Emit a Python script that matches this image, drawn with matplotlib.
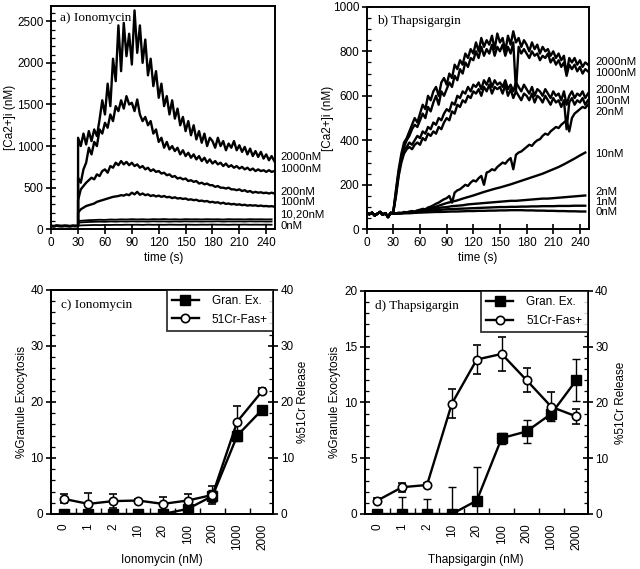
import numpy as np
import matplotlib
matplotlib.use("Agg")
import matplotlib.pyplot as plt
from matplotlib.ticker import FixedLocator
from matplotlib.lines import Line2D
import matplotlib.transforms as mtransforms

plt.rcParams['font.family'] = ['Liberation Sans', 'DejaVu Sans']
plt.rcParams['font.size'] = 8.5

# ---------------- Panel a: Ionomycin traces ----------------
a_pre = [40, 38, 42, 40, 39, 41, 40, 38, 41, 40, 40]          # t = 0..30 step 3
a_2000 = [1100, 1000, 1150, 1020, 1180, 1060, 1200, 1120, 1320, 1550,
          1380, 1750, 1480, 2050, 1780, 2450, 1900, 2480, 2080, 2350,
          1980, 2630, 2120, 2450, 2000, 2280, 1850, 2050, 1720, 1900,
          1580, 1750, 1480, 1600, 1380, 1550, 1330, 1450, 1250, 1350,
          1180, 1300, 1130, 1250, 1080, 1180, 1040, 1150, 1000, 1100,
          1060, 980, 1100, 1000, 1060, 950, 1030, 980, 1060, 950,
          1010, 930, 990, 900, 970, 880, 940, 870, 930, 850,
          900, 830, 880, 820]
a_1000 = [620, 560, 720, 800, 980, 900, 1050, 1000, 1200, 1150,
          1280, 1220, 1380, 1300, 1480, 1420, 1550, 1450, 1600, 1500,
          1520, 1420, 1560, 1380, 1300, 1350, 1250, 1300, 1150, 1200,
          1050, 1100, 980, 1050, 960, 1000, 940, 980, 900, 950,
          880, 920, 860, 900, 840, 880, 820, 860, 800, 840,
          790, 820, 780, 800, 760, 790, 750, 770, 740, 760,
          730, 750, 720, 740, 710, 730, 700, 720, 700, 710,
          690, 710, 690, 700]
a_200 = [350, 480, 520, 560, 590, 620, 600, 660, 640, 700,
         720, 680, 760, 740, 800, 770, 820, 780, 810, 770,
         800, 760, 780, 740, 760, 720, 740, 700, 720, 690,
         700, 670, 680, 650, 660, 630, 640, 610, 620, 600,
         610, 580, 590, 570, 580, 550, 560, 540, 550, 530,
         530, 510, 520, 500, 500, 490, 500, 480, 480, 470,
         480, 460, 470, 450, 460, 440, 450, 440, 445, 435,
         440, 430, 440, 430]
a_100 = [200, 240, 260, 280, 290, 300, 310, 330, 340, 350,
         360, 370, 380, 390, 395, 400, 410, 405, 420, 410,
         440, 420, 450, 415, 430, 410, 420, 400, 410, 395,
         405, 390, 400, 385, 390, 375, 385, 370, 375, 365,
         370, 355, 360, 350, 355, 340, 345, 335, 340, 325,
         330, 320, 325, 310, 320, 305, 310, 300, 305, 295,
         300, 290, 295, 285, 290, 285, 288, 280, 285, 278,
         280, 275, 278, 272]
a_20 = [100, 105, 110, 112, 115, 113, 118, 116, 120, 118,
        122, 119, 121, 118, 122, 120, 123, 119, 121, 118,
        122, 120, 121, 119, 122, 120, 121, 118, 122, 120,
        121, 119, 122, 120, 121, 119, 120]
a_10 = [80, 85, 88, 90, 92, 90, 94, 92, 95, 93,
        96, 94, 95, 93, 96, 94, 95, 92, 95, 93,
        96, 94, 95, 93, 95, 94, 96, 93, 95, 94,
        95, 93, 96, 94, 95, 93, 94]
a_0 = [45, 48, 50, 52, 51, 53, 52, 54, 53, 55,
       54, 55, 53, 56, 54, 55, 54, 56, 55, 54,
       56, 55, 54, 56, 55, 57, 55, 56, 54, 56,
       55, 57, 55, 56, 55, 56, 55]

# ---------------- Panel b: Thapsigargin traces ----------------
b_pre = [72, 68, 75, 62, 70, 78, 66, 72, 55, 74, 70]
b_2000 = [80, 180, 270, 340, 390, 410, 440, 470, 500, 480,
          520, 560, 540, 600, 580, 620, 640, 600, 660, 680,
          650, 700, 680, 740, 720, 760, 740, 790, 770, 810,
          790, 840, 800, 860, 820, 850, 830, 870, 810, 880,
          840, 860, 800, 870, 830, 890, 840, 860, 820, 850,
          830, 800, 840, 810, 830, 790, 820, 800, 810, 780,
          800, 770, 790, 760, 780, 700, 770, 750, 770, 740,
          760, 730, 750, 740]
b_1000 = [80, 160, 250, 320, 370, 400, 420, 450, 470, 460,
          490, 520, 500, 550, 530, 570, 600, 560, 620, 600,
          630, 660, 640, 690, 670, 720, 700, 750, 730, 770,
          760, 800, 770, 820, 780, 810, 790, 830, 780, 820,
          800, 830, 780, 820, 790, 840, 620, 820, 790, 810,
          790, 770, 800, 780, 790, 760, 780, 770, 790, 750,
          770, 740, 760, 730, 750, 690, 740, 720, 740, 710,
          730, 700, 720, 710]
b_200 = [80, 170, 260, 320, 360, 370, 390, 380, 400, 420,
         410, 440, 430, 460, 450, 480, 470, 500, 490, 520,
         540, 530, 570, 560, 600, 590, 620, 610, 640, 620,
         650, 640, 660, 630, 670, 650, 680, 640, 670, 650,
         660, 640, 670, 630, 650, 620, 660, 640, 620, 650,
         630, 610, 640, 600, 630, 620, 600, 630, 610, 590,
         620, 600, 610, 580, 620, 560, 600, 620, 590, 610,
         600, 620, 590, 610]
b_100 = [80, 150, 240, 300, 340, 360, 370, 360, 380, 390,
         380, 410, 400, 430, 420, 440, 430, 460, 450, 480,
         500, 490, 530, 520, 560, 550, 580, 570, 600, 590,
         620, 610, 630, 600, 640, 620, 650, 610, 640, 630,
         640, 610, 650, 600, 630, 590, 620, 600, 580, 610,
         600, 580, 610, 570, 600, 590, 570, 600, 580, 560,
         590, 570, 580, 550, 580, 450, 570, 590, 560, 580,
         570, 590, 560, 580]
b_20 = [72, 70, 75, 73, 78, 76, 80, 82, 80, 85,
        88, 92, 90, 98, 102, 108, 115, 120, 128, 135,
        140, 150, 120, 165, 175, 180, 190, 200, 195, 210,
        220, 215, 230, 240, 200, 255, 260, 270, 265, 280,
        290, 300, 295, 310, 320, 270, 335, 345, 350, 360,
        370, 380, 375, 390, 400, 405, 420, 430, 425, 440,
        450, 460, 455, 470, 480, 490, 440, 500, 520, 530,
        540, 550, 545, 560]
b_10 = [70, 71, 73, 74, 78, 84, 90, 96, 102, 110,
        118, 124, 130, 138, 145, 152, 160, 168, 175, 182,
        188, 195, 202, 210, 218, 226, 234, 242, 250, 260,
        270, 280, 292, 305, 318, 332, 345]
b_2 = [72, 73, 74, 76, 78, 82, 86, 90, 94, 98,
       100, 104, 106, 108, 112, 114, 116, 118, 120, 122,
       124, 126, 128, 128, 130, 132, 134, 136, 138, 138,
       140, 142, 144, 146, 148, 150, 152]
b_1 = [72, 72, 73, 75, 77, 80, 82, 84, 86, 88,
       90, 91, 92, 93, 94, 95, 96, 97, 98, 99,
       100, 100, 101, 101, 102, 102, 103, 103, 104, 104,
       104, 105, 105, 105, 106, 106, 106]
b_0 = [72, 71, 73, 72, 74, 75, 76, 77, 78, 78,
       79, 80, 80, 81, 82, 82, 83, 83, 84, 84,
       85, 85, 86, 86, 86, 85, 85, 84, 84, 83,
       83, 82, 82, 81, 81, 80, 80]

# ---------------- Panels c, d: dose-response ----------------
doses = ['0', '1', '2', '10', '20', '100', '200', '1000', '2000']
c_gran = [0, 0, 0, 0, 0, 0.9, 3.2, 14.0, 18.6]
c_gran_err = [0.3, 0.3, 0.5, 0.5, 0.3, 0.4, 1.0, 1.0, 0.5]
c_cr = [2.7, 1.8, 2.3, 2.4, 1.8, 2.4, 3.4, 16.5, 21.9]
c_cr_err = [0.8, 1.9, 1.2, 0.3, 1.2, 1.2, 1.6, 2.8, 0.5]
d_gran = [0, 0, 0, 0, 1.2, 6.8, 7.4, 9.0, 12.0]
d_gran_err = [0, 1.5, 1.3, 2.4, 3.0, 0.5, 1.0, 0.7, 1.9]
d_cr = [2.4, 4.8, 5.2, 19.8, 27.7, 28.7, 24.0, 19.2, 17.5]
d_cr_err = [0.4, 0.8, 0.4, 2.6, 2.6, 3.0, 2.2, 2.6, 1.3]

a_traces = [(a_2000, '2000nM', 874), (a_1000, '1000nM', 728), (a_200, '200nM', 449),
            (a_100, '100nM', 328)]
a_small = [a_20, a_10, a_0]
a_small_labels = [('10,20nM', 182), ('0nM', 36)]
b_traces = [(b_2000, '2000nM', 752), (b_1000, '1000nM', 703), (b_200, '200nM', 626),
            (b_100, '100nM', 577), (b_20, '20nM', 527)]
b_small = [(b_10, '10nM', 338), (b_2, '2nM', 167), (b_1, '1nM', 122), (b_0, '0nM', 77)]

fig = plt.figure(figsize=(6.4, 5.69), dpi=100)
axa = fig.add_axes([0.080, 0.597, 0.350, 0.392])
axb = fig.add_axes([0.573, 0.597, 0.347, 0.391])
axc = fig.add_axes([0.080, 0.0967, 0.347, 0.394])
axd = fig.add_axes([0.570, 0.0967, 0.348, 0.392])

LW = 1.7
FS = 8.5
LFS = 8.2
serif = ['Liberation Serif', 'DejaVu Serif']


def style_time_axis(ax, ymax, ymajor, yminor, ylab_x):
    for s in ax.spines.values():
        s.set_linewidth(1.4)
    ax.set_xlim(0, 250)
    ax.set_ylim(0, ymax)
    ax.set_xticks(np.arange(0, 241, 30))
    ax.set_yticks(np.arange(0, ymax + 1, ymajor))
    ax.yaxis.set_minor_locator(FixedLocator(np.arange(0, ymax, yminor)))
    ax.tick_params(axis='both', which='major', direction='inout', length=7, width=1.2,
                   top=False, right=False, labelsize=FS, pad=2)
    ax.tick_params(axis='y', which='minor', direction='in', length=3, width=0.9)
    ax.set_xlabel('time (s)', fontsize=FS, labelpad=2)
    ax.set_ylabel('[Ca2+]i (nM)', fontsize=FS)
    ax.yaxis.set_label_coords(ylab_x, 0.5)


# Panel a
t_pre = np.arange(0, 31, 3)
t_post3 = 30 + 3 * np.arange(74)
t_post6 = 30 + 6 * np.arange(37)
for vals, lab, ly in a_traces:
    axa.plot(np.concatenate([t_pre, t_post3]), a_pre + vals, color='black', lw=LW)
for vals in a_small:
    axa.plot(np.concatenate([t_pre, t_post6]), a_pre + vals, color='black', lw=1.3)
style_time_axis(axa, 2680, 500, 100, -0.155)
axa.text(0.04, 0.975, 'a) Ionomycin', transform=axa.transAxes, family=serif,
         fontsize=9.5, va='top', ha='left')
trA = mtransforms.blended_transform_factory(axa.transAxes, axa.transData)
for vals, lab, ly in a_traces:
    axa.text(1.022, ly, lab, transform=trA, fontsize=LFS, va='center', ha='left')
for lab, ly in a_small_labels:
    axa.text(1.022, ly, lab, transform=trA, fontsize=LFS, va='center', ha='left')

# Panel b
for vals, lab, ly in b_traces:
    axb.plot(np.concatenate([t_pre, t_post3]), b_pre + vals, color='black', lw=LW)
for vals, lab, ly in b_small:
    axb.plot(np.concatenate([t_pre, t_post6]), b_pre + vals, color='black', lw=LW)
style_time_axis(axb, 1000, 200, 50, -0.147)
axb.text(0.045, 0.965, 'b) Thapsigargin', transform=axb.transAxes, family=serif,
         fontsize=9.5, va='top', ha='left')
trB = mtransforms.blended_transform_factory(axb.transAxes, axb.transData)
for vals, lab, ly in b_traces + b_small:
    axb.text(1.03, ly, lab, transform=trB, fontsize=LFS, va='center', ha='left')


def dose_panel(ax, gran, gran_err, cr, cr_err, lmax, lstep, title, xlabel, rlab_x):
    x = np.arange(len(doses))
    for s in ax.spines.values():
        s.set_linewidth(1.4)
    ax2 = ax.twinx()
    for s in ax2.spines.values():
        s.set_linewidth(1.4)
    ax.errorbar(x, gran, yerr=gran_err, color='black', marker='s', ms=6.5, lw=1.7,
                capsize=3, elinewidth=1.0, capthick=1.0, mfc='black', mec='black',
                zorder=3)
    ax2.errorbar(x, cr, yerr=cr_err, color='black', marker='o', ms=6, lw=1.7,
                 capsize=3, elinewidth=1.0, capthick=1.0, mfc='white', mec='black',
                 mew=1.2, zorder=3)
    ax.set_xlim(-0.5, 8.45)
    ax.set_ylim(0, lmax)
    ax2.set_ylim(0, 40)
    ax.set_xticks(x)
    ax.set_xticklabels(doses, rotation=90, fontsize=FS)
    ax.xaxis.set_minor_locator(FixedLocator(x[:-1] + 0.5))
    ax.tick_params(axis='x', which='major', length=0, pad=7)
    ax.tick_params(axis='x', which='minor', direction='in', length=4, width=1.0)
    ax.set_yticks(np.arange(0, lmax + 0.1, lstep))
    ax.yaxis.set_minor_locator(FixedLocator(np.arange(0, lmax, lstep / 5)))
    ax.tick_params(axis='y', which='major', direction='inout', length=7, width=1.2,
                   labelsize=FS, pad=2)
    ax.tick_params(axis='y', which='minor', direction='in', length=3, width=0.9)
    ax2.set_yticks(np.arange(0, 41, 10))
    ax2.yaxis.set_minor_locator(FixedLocator(np.arange(0, 40, 2)))
    ax2.tick_params(axis='y', which='major', direction='inout', length=7, width=1.2,
                    labelsize=FS, pad=2)
    ax2.tick_params(axis='y', which='minor', direction='in', length=3, width=0.9)
    ax.set_ylabel('%Granule Exocytosis', fontsize=FS)
    ax.yaxis.set_label_coords(-0.105, 0.5)
    ax2.set_ylabel('%51Cr Release', fontsize=FS, rotation=90)
    ax2.yaxis.set_label_coords(rlab_x, 0.5)
    ax.set_xlabel(xlabel, fontsize=FS, labelpad=3)
    ax.text(0.045, 0.96, title, transform=ax.transAxes, family=serif, fontsize=9.5,
            va='top', ha='left')
    h1 = Line2D([], [], color='black', lw=1.7, marker='s', ms=6.5, mfc='black')
    h2 = Line2D([], [], color='black', lw=1.7, marker='o', ms=6, mfc='white', mew=1.2)
    leg = ax2.legend([h1, h2], ['Gran. Ex.', '51Cr-Fas+'], loc='upper right',
                     fontsize=FS, frameon=True, fancybox=False, borderaxespad=0,
                     handlelength=2.3, borderpad=0.45, labelspacing=0.55,
                     handletextpad=1.1)
    leg.get_frame().set_edgecolor('black')
    leg.get_frame().set_linewidth(1.3)
    return ax2


dose_panel(axc, c_gran, c_gran_err, c_cr, c_cr_err, 40, 10, 'c) Ionomycin',
           'Ionomycin (nM)', 1.105)
dose_panel(axd, d_gran, d_gran_err, d_cr, d_cr_err, 20, 5, 'd) Thapsigargin',
           'Thapsigargin (nM)', 1.125)

fig.savefig('out.png', dpi=100)
